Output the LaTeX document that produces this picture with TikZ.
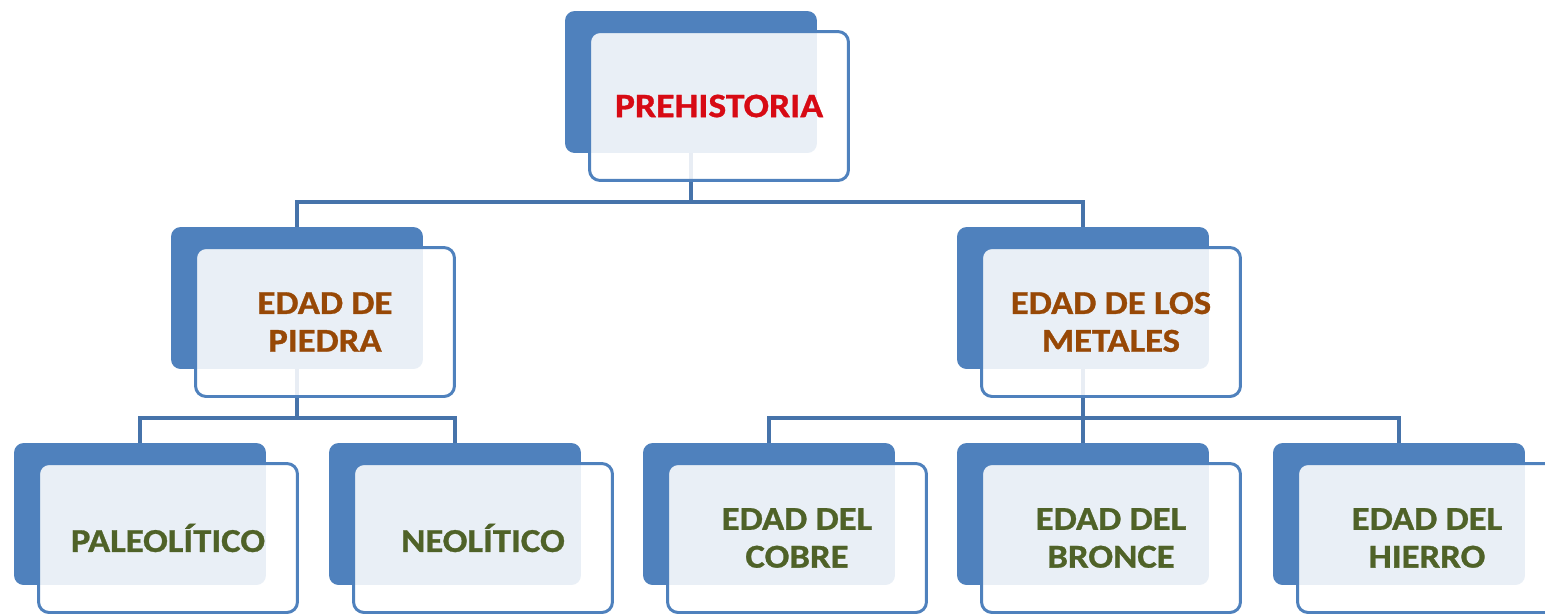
\documentclass[tikz,border=0pt]{standalone}
\usepackage{fontspec}
\newfontfamily\boxfont{Carlito}[FakeStretch=1.1, FakeBold=0.9]
\usepackage{xcolor}
\usetikzlibrary{backgrounds}
\definecolor{boxBlue}{RGB}{79,129,189}
\definecolor{lineBlue}{RGB}{70,115,170}
\definecolor{topRed}{RGB}{215,10,20}
\definecolor{midBrown}{RGB}{151,72,6}
\definecolor{lowGreen}{RGB}{79,98,40}
\begin{document}
\begin{tikzpicture}[x=0.02cm, y=-0.02cm,
  backN/.style={rectangle, rounded corners=5.5pt, fill=boxBlue,
                minimum width=5.04cm, minimum height=2.84cm, inner sep=0pt},
  frontN/.style={rectangle, rounded corners=6pt, draw=boxBlue, line width=1.7pt,
                 fill=white, fill opacity=0.88, text opacity=1,
                 minimum width=5.18cm, minimum height=2.98cm, inner sep=0pt,
                 align=center, font=\boxfont\bfseries\fontsize{19}{21.5}\selectfont},
  topT/.style={text=topRed, font=\boxfont\bfseries\fontsize{19.5}{22}\selectfont},
  midT/.style={text=midBrown},
  lowT/.style={text=lowGreen},
  link/.style={draw=lineBlue, line width=1.8pt}
]
\useasboundingbox (0,0) rectangle (1545,613);
% Bus lines
\coordinate (bus1) at (0,202);
\coordinate (bus2) at (0,418);
% Top level
\node[backN] (preB) at (691,82) {};
\node[frontN, topT] (pre) at (719,106) {PREHISTORIA};
% Second level
\node[backN] (piedraB) at (297,298) {};
\node[frontN, midT] (piedra) at (325,322) {EDAD DE\\PIEDRA};
\node[backN] (metalesB) at (1083,298) {};
\node[frontN, midT] (metales) at (1111,322) {EDAD DE LOS\\METALES};
% Third level
\node[backN] (paleoB) at (140,514) {};
\node[frontN, lowT] (paleo) at (168,538) {PALEOLÍTICO};
\node[backN] (neoB) at (455,514) {};
\node[frontN, lowT] (neo) at (483,538) {NEOLÍTICO};
\node[backN] (cobreB) at (769,514) {};
\node[frontN, lowT] (cobre) at (797,538) {EDAD DEL\\COBRE};
\node[backN] (bronceB) at (1083,514) {};
\node[frontN, lowT] (bronce) at (1111,538) {EDAD DEL\\BRONCE};
\node[backN] (hierroB) at (1399,514) {};
\node[frontN, lowT] (hierro) at (1427,538) {EDAD DEL\\HIERRO};
% Connectors (behind the boxes)
\begin{scope}[on background layer]
\draw[link] (preB.center) -- (preB.center |- bus1) -| (piedraB.center);
\draw[link] (preB.center |- bus1) -| (metalesB.center);
\draw[link] (piedraB.center) -- (piedraB.center |- bus2) -| (paleoB.center);
\draw[link] (piedraB.center |- bus2) -| (neoB.center);
\draw[link] (metalesB.center) -- (metalesB.center |- bus2) -| (cobreB.center);
\draw[link] (metalesB.center |- bus2) -| (hierroB.center);
\draw[link] (metalesB.center) -- (bronceB.center);
\end{scope}
\end{tikzpicture}
\end{document}
